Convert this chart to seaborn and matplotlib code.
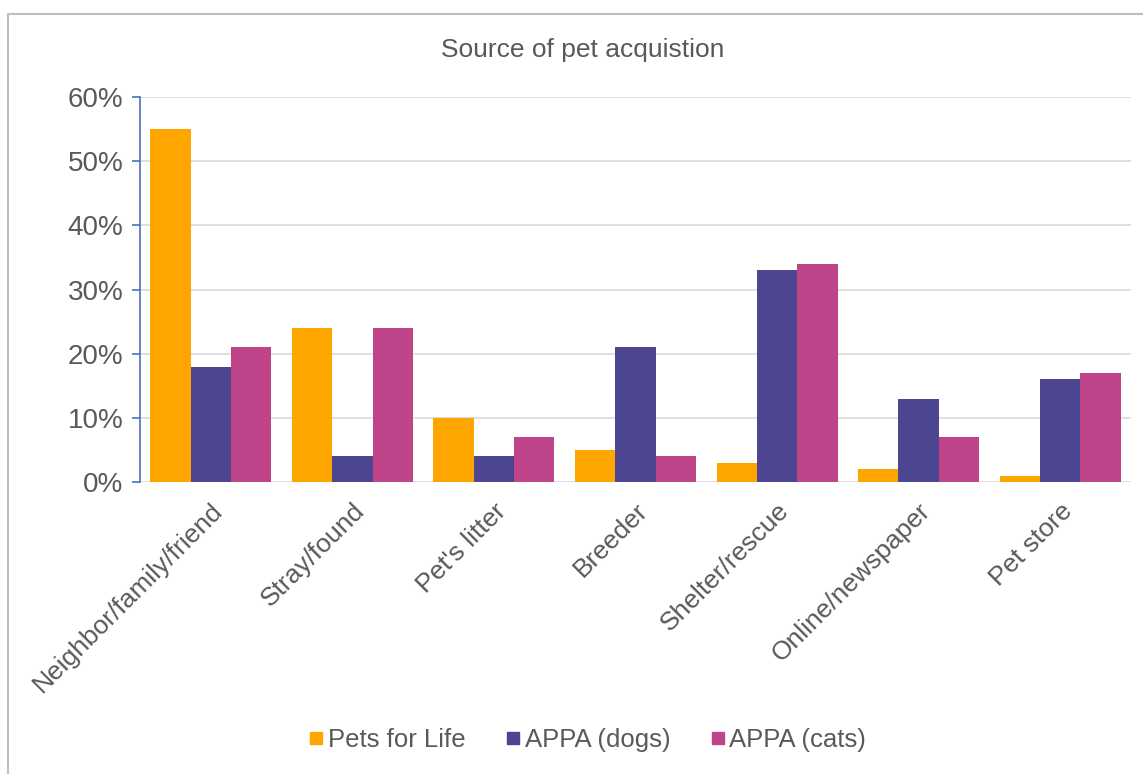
import matplotlib
matplotlib.use("Agg")
import matplotlib.pyplot as plt
import seaborn as sns
import pandas as pd
from matplotlib.ticker import FuncFormatter
from matplotlib.lines import Line2D

categories = ["Neighbor/family/friend", "Stray/found", "Pet's litter", "Breeder",
              "Shelter/rescue", "Online/newspaper", "Pet store"]
series_names = ["Pets for Life", "APPA (dogs)", "APPA (cats)"]
pets_for_life = [55, 24, 10, 5, 3, 2, 1]
appa_dogs = [18, 4, 4, 21, 33, 13, 16]
appa_cats = [21, 24, 7, 4, 34, 7, 17]
colors = ["#FFA500", "#4B4592", "#C0448A"]

rows = []
for name, vals in zip(series_names, [pets_for_life, appa_dogs, appa_cats]):
    for c, v in zip(categories, vals):
        rows.append({"Source": c, "Series": name, "Value": v})
df = pd.DataFrame(rows)

sns.set_theme(style="white")
plt.rcParams['font.family'] = ['Liberation Sans', 'DejaVu Sans']

fig = plt.figure(figsize=(11.43, 7.74), dpi=100)
ax = fig.add_axes([140/1143, 1-482/774, (1131-140)/1143, (482-97)/774])

sns.barplot(data=df, x="Source", y="Value", hue="Series", order=categories,
            hue_order=series_names, palette=colors, width=0.855, saturation=1,
            linewidth=0, ax=ax, legend=False)

ax.set_ylim(0, 60)
ax.set_yticks(range(0, 61, 10))
ax.yaxis.set_major_formatter(FuncFormatter(lambda v, p: f"{int(v)}%"))
ax.set_xlim(-0.5, len(categories) - 0.5)
ax.grid(axis="y", color="#D9D9D9", linewidth=1.2)
ax.set_axisbelow(True)
for s in ["top", "right", "bottom"]:
    ax.spines[s].set_visible(False)
ax.spines["left"].set_color("#4472C4")
ax.spines["left"].set_linewidth(1.2)
ax.tick_params(axis="y", which="major", left=True, length=6, color="#4472C4",
               width=1.2, labelsize=20, labelcolor="#595959", pad=6)
ax.tick_params(axis="x", bottom=False, labelsize=19, labelcolor="#595959", pad=6)
ax.set_xlabel("")
ax.set_ylabel("")
plt.setp(ax.get_xticklabels(), rotation=45, ha="right", rotation_mode="anchor")

fig.text(583/1143, 1-50/774, "Source of pet acquistion", ha="center", va="center",
         fontsize=19, color="#595959")

handles = [Line2D([0], [0], marker="s", linestyle="", markersize=8,
                  markerfacecolor=c, markeredgecolor=c) for c in colors]
fig.legend(handles, series_names, loc="center", bbox_to_anchor=(588/1143, 1-740/774),
           ncol=3, frameon=False, fontsize=18.5, handlelength=0.5, handletextpad=0.2,
           columnspacing=1.6, labelcolor="#595959")

# outer chart border (top and left visible)
fig.add_artist(Line2D([8/1143, 1], [1-14/774, 1-14/774], transform=fig.transFigure,
                      color="#BFBFBF", linewidth=1.5))
fig.add_artist(Line2D([8/1143, 8/1143], [0, 1-14/774], transform=fig.transFigure,
                      color="#BFBFBF", linewidth=1.5))

fig.savefig("out.png", dpi=100)
